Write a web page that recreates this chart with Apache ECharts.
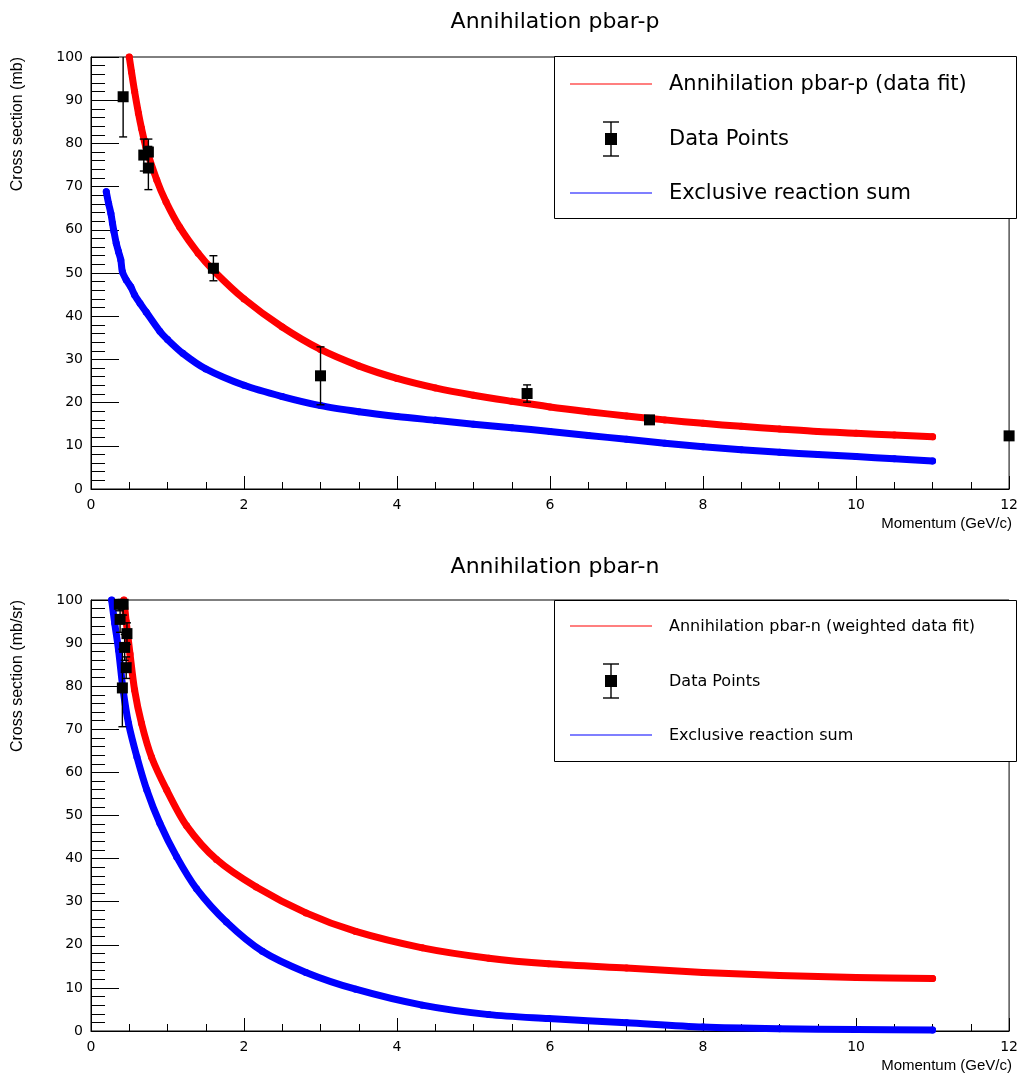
<!DOCTYPE html>
<html><head><meta charset="utf-8">
<script src="https://cdn.jsdelivr.net/npm/echarts@6/dist/echarts.min.js"></script>
<style>html,body{margin:0;padding:0;background:#fff}#c{width:1021px;height:1079px}</style>
</head><body><div id="c"></div>
<script>
// ---- Top panel: Annihilation pbar-p ----
const topRedX  = [0.50, 0.53, 0.57, 0.62, 0.66, 0.72, 0.86, 0.98, 1.16, 1.4, 1.6, 2.0, 2.5, 3.0, 3.5, 4.0, 4.5, 5.0, 5.5, 6.0, 6.5, 7.0, 7.5, 8.0, 8.5, 9.0, 9.5, 10.0, 10.5, 11.0];
const topRedY  = [100, 96.5, 92.0, 87.0, 83.5, 79.0, 71.5, 66.5, 60.6, 54.6, 50.6, 44.0, 37.5, 32.3, 28.5, 25.6, 23.4, 21.7, 20.3, 19.0, 17.9, 16.9, 16.0, 15.2, 14.5, 13.9, 13.3, 12.9, 12.5, 12.1];
const topBlueX = [0.20, 0.23, 0.26, 0.28, 0.30, 0.33, 0.36, 0.39, 0.41, 0.46, 0.52, 0.57, 0.64, 0.72, 0.9, 1.0, 1.2, 1.5, 2.0, 2.5, 3.0, 3.5, 4.0, 4.5, 5.0, 5.5, 6.0, 6.5, 7.0, 7.5, 8.0, 8.5, 9.0, 9.5, 10.0, 10.5, 11.0];
const topBlueY = [68.8, 66.1, 63.8, 61.6, 59.6, 56.9, 54.9, 53.0, 50.3, 48.4, 46.8, 44.9, 43.0, 41.0, 36.5, 34.6, 31.4, 27.8, 24.0, 21.4, 19.3, 17.9, 16.8, 15.9, 15.0, 14.2, 13.3, 12.4, 11.5, 10.6, 9.8, 9.1, 8.5, 8.0, 7.5, 7.0, 6.5];
const topPtsX  = [0.42, 0.69, 0.75, 0.75, 1.6, 3.0, 5.7, 7.3, 12.0];
const topPtsY  = [90.8, 77.3, 78.0, 74.3, 51.1, 26.2, 22.1, 16.0, 12.3];
const topPtsE  = [9.3, 3.7, 3.0, 5.0, 2.9, 6.7, 2.0, 0.5, 0];

// ---- Bottom panel: Annihilation pbar-n ----
const botRedX  = [0.43, 0.46, 0.51, 0.57, 0.66, 0.79, 0.99, 1.25, 1.64, 2.16, 2.81, 3.46, 4.33, 5.20, 5.98, 7.0, 8.0, 9.0, 10.0, 11.0];
const botRedY  = [100, 95.0, 87.5, 79.1, 71.4, 63.6, 55.9, 47.6, 39.8, 33.4, 27.4, 23.1, 19.3, 16.9, 15.6, 14.6, 13.6, 12.9, 12.4, 12.2];
const botBlueX = [0.27, 0.31, 0.36, 0.42, 0.49, 0.60, 0.73, 0.90, 1.12, 1.38, 1.77, 2.24, 2.81, 3.46, 4.33, 5.20, 5.98, 7.0, 8.0, 9.0, 10.0, 11.0];
const botBlueY = [100, 94.6, 88.4, 79.1, 71.4, 63.6, 55.9, 48.2, 40.4, 33.0, 25.3, 18.5, 13.6, 9.7, 6.0, 3.8, 2.9, 1.9, 0.9, 0.5, 0.35, 0.25];
const botPtsX  = [0.37, 0.42, 0.38, 0.47, 0.44, 0.46, 0.41];
const botPtsY  = [99.0, 99.0, 95.5, 92.2, 89.0, 84.3, 79.6];
const botPtsE  = [1.5, 2.5, 3.0, 2.5, 3.0, 2.5, 9.0];

// ---- Tick settings / texts ----
const xTicks = {min: 0, max: 12, interval: 2, minorSplit: 4};
const yTicks = {min: 0, max: 100, interval: 10, minorSplit: 5};
const titles = ['Annihilation pbar-p', 'Annihilation pbar-n'];
const yTitles = ['Cross section (mb)', 'Cross section (mb/sr)'];
const xTitle = 'Momentum (GeV/c)';
const legendTexts = [
  ['Annihilation pbar-p (data fit)', 'Data Points', 'Exclusive reaction sum'],
  ['Annihilation pbar-n (weighted data fit)', 'Data Points', 'Exclusive reaction sum']
];

const FONT = "'DejaVu Sans', 'Liberation Sans', sans-serif";
const AFONT = "'Liberation Sans', Arial, sans-serif";
const pairs = (xs, ys) => xs.map((x, i) => [x, ys[i]]);
const triples = (xs, ys, es) => xs.map((x, i) => [x, ys[i], es[i]]);

function makeX(gi) {
  return {type: 'value', gridIndex: gi, min: xTicks.min, max: xTicks.max, interval: xTicks.interval,
    axisLine: {show: true, onZero: false, lineStyle: {color: '#000', width: 1}},
    axisTick: {show: true, inside: true, length: 13, lineStyle: {color: '#000', width: 1}},
    minorTick: {show: true, splitNumber: xTicks.minorSplit, length: 7, lineStyle: {color: '#000', width: 1}},
    splitLine: {show: false}, minorSplitLine: {show: false},
    axisLabel: {color: '#000', fontFamily: FONT, fontSize: 14, margin: 9}};
}
function makeY(gi) {
  return {type: 'value', gridIndex: gi, min: yTicks.min, max: yTicks.max, interval: yTicks.interval,
    axisLine: {show: true, onZero: false, lineStyle: {color: '#000', width: 1}},
    axisTick: {show: true, inside: true, length: 28, lineStyle: {color: '#000', width: 1}},
    minorTick: {show: true, splitNumber: yTicks.minorSplit, length: 14, lineStyle: {color: '#000', width: 1}},
    splitLine: {show: false}, minorSplitLine: {show: false},
    axisLabel: {color: '#000', fontFamily: FONT, fontSize: 14, margin: 8}};
}

function errRender(params, api) {
  const x = api.value(0), y = api.value(1), e = api.value(2);
  if (!(e > 0)) return null;
  const cs = params.coordSys;
  const t = api.coord([x, y + e]);
  const b = api.coord([x, y - e]);
  const y1 = Math.max(t[1], cs.y), y2 = Math.min(b[1], cs.y + cs.height);
  const st = {stroke: '#000', lineWidth: 1.4};
  const ch = [{type: 'line', shape: {x1: t[0], y1: y1, x2: t[0], y2: y2}, style: st}];
  if (t[1] >= cs.y + 1) ch.push({type: 'line', shape: {x1: t[0] - 4, y1: t[1], x2: t[0] + 4, y2: t[1]}, style: st});
  if (b[1] <= cs.y + cs.height) ch.push({type: 'line', shape: {x1: b[0] - 4, y1: b[1], x2: b[0] + 4, y2: b[1]}, style: st});
  return {type: 'group', children: ch};
}

function curve(gi, xs, ys, color) {
  return {type: 'line', xAxisIndex: gi, yAxisIndex: gi, data: pairs(xs, ys),
    smooth: 0.3, symbol: 'circle', symbolSize: 7, showSymbol: true,
    lineStyle: {color: color, width: 7, cap: 'round', join: 'round'}, itemStyle: {color: color, opacity: 1},
    clip: true, z: 2, silent: true};
}
function errs(gi, xs, ys, es) {
  return {type: 'custom', xAxisIndex: gi, yAxisIndex: gi, data: triples(xs, ys, es),
    renderItem: errRender, z: 4, silent: true};
}
function pts(gi, xs, ys) {
  return {type: 'scatter', xAxisIndex: gi, yAxisIndex: gi, data: pairs(xs, ys),
    symbol: 'rect', symbolSize: 11, itemStyle: {color: '#000', opacity: 1}, clip: false, z: 5, silent: true};
}

const grids = [
  {left: 91, top: 57, width: 921, height: 432},
  {left: 91, top: 600, width: 921, height: 431}
];

function legend(top, h, texts, fs, rows) {
  const g = [];
  g.push({type: 'rect', shape: {x: 554.5, y: top + 0.5, width: 462, height: h}, style: {fill: '#fff', stroke: '#000', lineWidth: 1}, z: 10});
  g.push({type: 'line', shape: {x1: 570, y1: rows[0], x2: 652, y2: rows[0]}, style: {stroke: '#ff0000', lineWidth: 1.2}, z: 11});
  g.push({type: 'line', shape: {x1: 570, y1: rows[2], x2: 652, y2: rows[2]}, style: {stroke: '#0000ff', lineWidth: 1.2}, z: 11});
  const cx = 611, cy = rows[1];
  g.push({type: 'line', shape: {x1: cx, y1: cy - 17, x2: cx, y2: cy + 17}, style: {stroke: '#000', lineWidth: 1.4}, z: 11});
  g.push({type: 'line', shape: {x1: cx - 8, y1: cy - 17, x2: cx + 8, y2: cy - 17}, style: {stroke: '#000', lineWidth: 1.4}, z: 11});
  g.push({type: 'line', shape: {x1: cx - 8, y1: cy + 17, x2: cx + 8, y2: cy + 17}, style: {stroke: '#000', lineWidth: 1.4}, z: 11});
  g.push({type: 'rect', shape: {x: cx - 6, y: cy - 6, width: 12, height: 12}, style: {fill: '#000'}, z: 11});
  texts.forEach((t, i) => g.push({type: 'text', x: 669, y: rows[i] + 1, z: 11,
    style: {text: t, fill: '#000', font: fs + 'px ' + FONT, textAlign: 'left', textVerticalAlign: 'middle'}}));
  return g;
}

const graphics = [];
[0, 1].forEach(i => {
  const gr = grids[i];
  graphics.push({type: 'text', x: 555, y: i === 0 ? 22 : 567, z: 11,
    style: {text: titles[i], fill: '#000', font: '22px ' + FONT, textAlign: 'center', textVerticalAlign: 'middle'}});
  graphics.push({type: 'text', x: 1012, y: gr.top + gr.height + 35, z: 11,
    style: {text: xTitle, fill: '#000', font: '15px ' + AFONT, textAlign: 'right', textVerticalAlign: 'middle'}});
  graphics.push({type: 'text', x: 18, y: gr.top, rotation: Math.PI / 2, z: 11,
    style: {text: yTitles[i], fill: '#000', font: '16px ' + AFONT, textAlign: 'right', textVerticalAlign: 'middle'}});
});
graphics.push(...legend(56, 162, legendTexts[0], 21, [84, 139, 193]));
graphics.push(...legend(600, 161, legendTexts[1], 16, [626, 681, 735]));

const chart = echarts.init(document.getElementById('c'), null, {renderer: 'canvas'});
chart.setOption({
  animation: false,
  backgroundColor: '#fff',
  grid: grids.map(g => Object.assign({show: true, borderColor: '#000', borderWidth: 1, backgroundColor: 'transparent'}, g)),
  xAxis: [makeX(0), makeX(1)],
  yAxis: [makeY(0), makeY(1)],
  series: [
    curve(0, topBlueX, topBlueY, '#0000ff'),
    curve(0, topRedX, topRedY, '#ff0000'),
    errs(0, topPtsX, topPtsY, topPtsE),
    pts(0, topPtsX, topPtsY),
    curve(1, botBlueX, botBlueY, '#0000ff'),
    curve(1, botRedX, botRedY, '#ff0000'),
    errs(1, botPtsX, botPtsY, botPtsE),
    pts(1, botPtsX, botPtsY)
  ],
  graphic: graphics
});
</script></body></html>
